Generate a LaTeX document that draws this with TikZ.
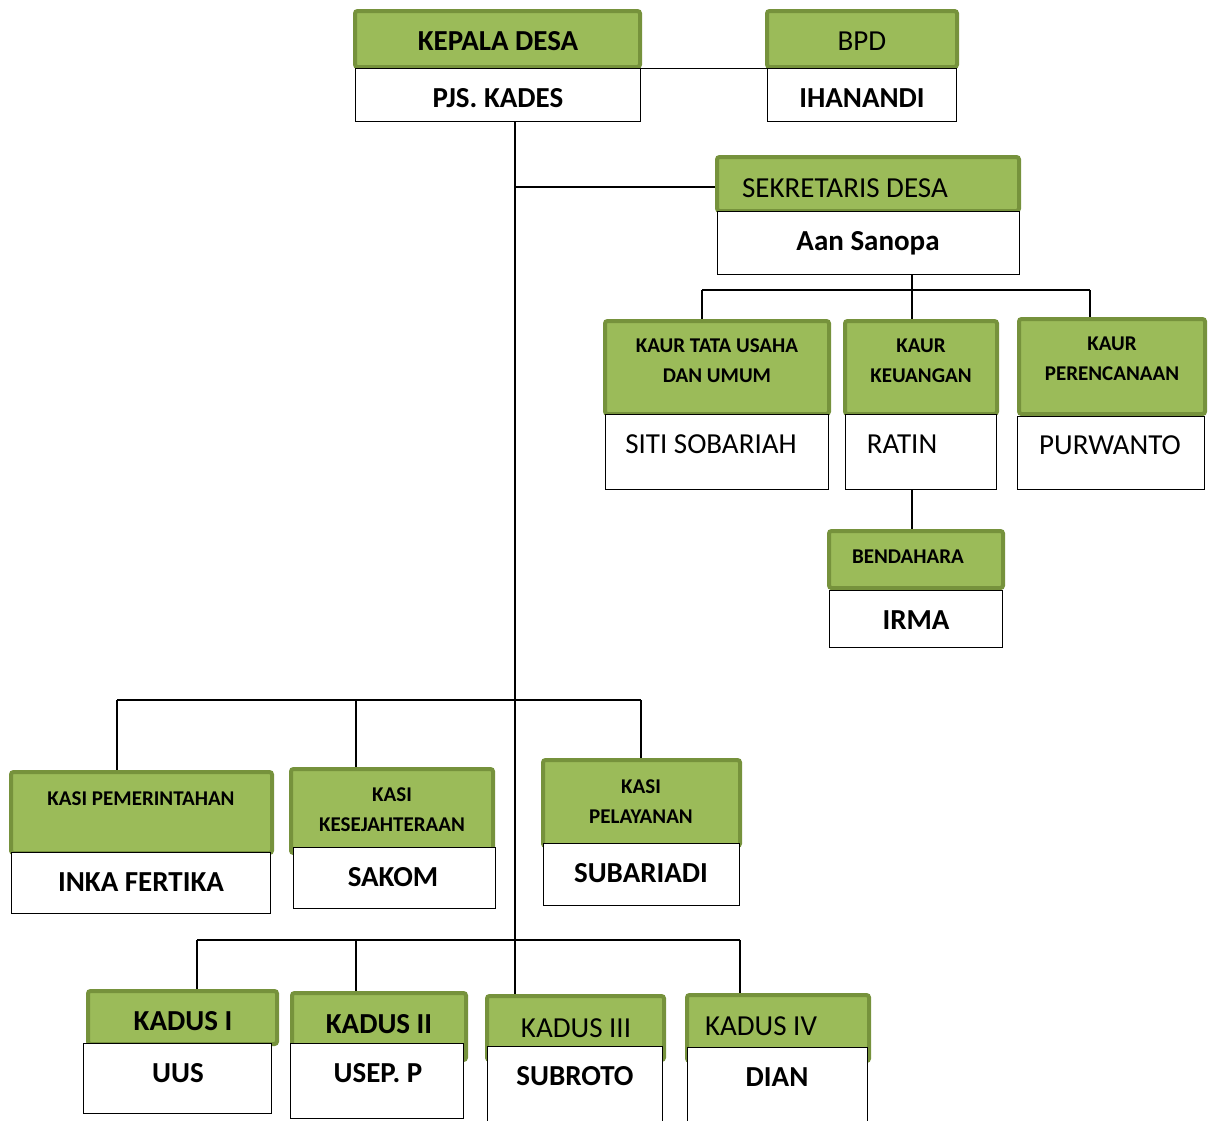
\documentclass[tikz,border=0pt]{standalone}
\usepackage{fontspec}
\setmainfont{Carlito}
\usetikzlibrary{backgrounds}
\definecolor{gfill}{HTML}{9BBB59}
\definecolor{gborder}{HTML}{76923C}
\newcommand\gb[5]{\pgfmathsetmacro\bw{#4-#2-4}\pgfmathsetmacro\bh{#5-#3-4}%
  \node[gbox,minimum width=\bw pt,minimum height=\bh pt] (#1) at ({(#2+#4)/2},{(#3+#5)/2}) {};}
\newcommand\wb[5]{\pgfmathsetmacro\bw{#4-#2-1.3}\pgfmathsetmacro\bh{#5-#3-1.3}%
  \node[wbox,minimum width=\bw pt,minimum height=\bh pt] (#1) at ({(#2+#4)/2},{(#3+#5)/2}) {};}
\begin{document}
\begin{tikzpicture}[x=1pt,y=-1pt,
  gbox/.style={draw=gborder,fill=gfill,line width=4pt,rounded corners=2.5pt,inner sep=0,outer sep=0},
  wbox/.style={draw=black,fill=white,line width=1.3pt,inner sep=0,outer sep=0},
  conn/.style={draw=black,line width=1.6pt},
  bigb/.style={font=\fontsize{29}{32}\selectfont\bfseries,anchor=base,inner sep=0},
  regt/.style={font=\fontsize{29}{32}\selectfont,anchor=base,inner sep=0},
  smallb/.style={font=\fontsize{21}{30}\selectfont\bfseries,align=center,inner sep=0}]
\useasboundingbox (0,0) rectangle (1213,1120);

% green boxes
\gb{kdg}{353}{9}{642}{69}
\gb{bpdg}{765}{9}{959}{69}
\gb{sekg}{715}{155}{1021}{213}
\gb{tug}{603}{319}{831}{416}
\gb{keug}{843}{319}{999}{416}
\gb{pereg}{1017}{317}{1207}{416}
\gb{bendg}{827}{529}{1005}{590}
\gb{pemg}{9}{770}{274}{855}
\gb{kesg}{289}{767}{495}{855}
\gb{pelg}{541}{758}{742}{848}
\gb{k1g}{86}{989}{279}{1046}
\gb{k2g}{290}{991}{468}{1062}
\gb{k3g}{485}{994}{666}{1062}
\gb{k4g}{685}{993}{871}{1063}

% white boxes
\wb{pjs}{355}{68}{641}{122}
\wb{ihan}{767}{68}{957}{122}
\wb{aan}{717}{211}{1020}{275}
\wb{siti}{605}{414}{829}{490}
\wb{ratin}{845}{414}{997}{490}
\wb{purw}{1017}{416}{1205}{490}
\wb{irma}{829}{590}{1003}{648}
\wb{inka}{11}{852}{271}{914}
\wb{sakom}{293}{847}{496}{909}
\wb{subar}{543}{843}{740}{906}
\wb{uus}{83}{1043}{272}{1114}
\wb{usep}{290}{1043}{464}{1119}
\wb{subro}{487}{1046}{663}{1124}
\wb{dian}{687}{1047}{868}{1124}

% texts
\node[bigb] (tkd) at (498,50) {KEPALA DESA};
\node[bigb] (tpjs) at (498,107) {PJS. KADES};
\node[regt] (tbpd) at (862,50) {BPD};
\node[bigb] (tihan) at (862,107) {IHANANDI};
\node[regt] (tsek) at (845,197) {SEKRETARIS DESA};
\node[bigb] (taan) at (868,250) {Aan Sanopa};
\node[smallb] (ttu) at (717,361) {KAUR TATA USAHA\\DAN UMUM};
\node[smallb] (tkeu) at (921,361) {KAUR\\KEUANGAN};
\node[smallb] (tpere) at (1112,359) {KAUR\\PERENCANAAN};
\node[regt] (tsiti) at (711,453) {SITI SOBARIAH};
\node[regt] (tratin) at (902,453) {RATIN};
\node[regt] (tpurw) at (1110,454) {PURWANTO};
\node[smallb,anchor=base] (tbend) at (908,563) {BENDAHARA};
\node[bigb] (tirma) at (916,629) {IRMA};
\node[smallb,anchor=base] (tpem) at (141,805) {KASI PEMERINTAHAN};
\node[bigb] (tinka) at (141,891) {INKA FERTIKA};
\node[smallb] (tkes) at (392,810) {KASI\\KESEJAHTERAAN};
\node[bigb] (tsakom) at (393,886) {SAKOM};
\node[smallb] (tpel) at (641,802) {KASI\\PELAYANAN};
\node[bigb] (tsubar) at (641,882) {SUBARIADI};
\node[bigb] (tk1) at (183,1030) {KADUS I};
\node[bigb] (tuus) at (178,1082) {UUS};
\node[bigb] (tk2) at (379,1033) {KADUS II};
\node[bigb] (tusep) at (378,1082) {USEP. P};
\node[regt] (tk3) at (576,1037) {KADUS III};
\node[bigb] (tsubro) at (575,1085) {SUBROTO};
\node[regt] (tk4) at (761,1035) {KADUS IV};
\node[bigb] (tdian) at (777,1086) {DIAN};

% junction coordinates
\coordinate (tx) at (515,0);
\coordinate (sekj) at (515,187);
\coordinate (sb) at (912,290);
\coordinate (sbl) at (702,290);
\coordinate (sbr) at (1090,290);
\coordinate (kbl) at (117,700);
\coordinate (kbm) at (356,700);
\coordinate (kbr) at (641,700);
\coordinate (dbl) at (197,940);
\coordinate (dbm) at (356,940);
\coordinate (dbr) at (740,940);

\begin{scope}[on background layer]
\draw[conn] (pjs.north east) -- (ihan.north west);
\draw[conn] (tx |- pjs.south) -- (tx |- k3g.north);
\draw[conn] (sekj) -- (sekj -| sekg.west);
\draw[conn] (sb |- aan.south) -- (sb);
\draw[conn] (sbl) -- (sbr);
\draw[conn] (sbl) -- (sbl |- tug.north);
\draw[conn] (sb) -- (sb |- keug.north);
\draw[conn] (sbr) -- (sbr |- pereg.north);
\draw[conn] (sb |- ratin.south) -- (sb |- bendg.north);
\draw[conn] (kbl) -- (kbr);
\draw[conn] (kbl) -- (kbl |- pemg.north);
\draw[conn] (kbm) -- (kbm |- kesg.north);
\draw[conn] (kbr) -- (kbr |- pelg.north);
\draw[conn] (dbl) -- (dbr);
\draw[conn] (dbl) -- (dbl |- k1g.north);
\draw[conn] (dbm) -- (dbm |- k2g.north);
\draw[conn] (dbr) -- (dbr |- k4g.north);
\end{scope}
\end{tikzpicture}
\end{document}
